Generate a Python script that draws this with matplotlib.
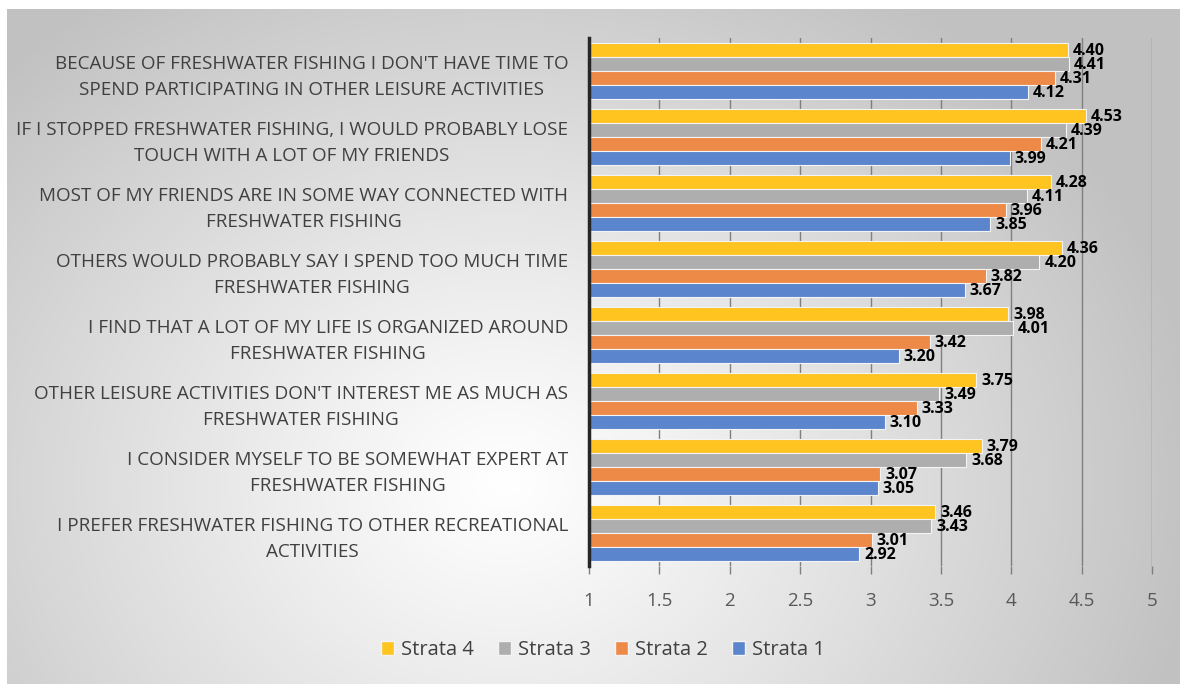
import numpy as np
import matplotlib
matplotlib.use("Agg")
import matplotlib.pyplot as plt
from matplotlib.patches import Patch

categories = [
    "BECAUSE OF FRESHWATER FISHING I DON'T HAVE TIME TO\nSPEND PARTICIPATING IN OTHER LEISURE ACTIVITIES",
    "IF I STOPPED FRESHWATER FISHING, I WOULD PROBABLY LOSE\nTOUCH WITH A LOT OF MY FRIENDS",
    "MOST OF MY FRIENDS ARE IN SOME WAY CONNECTED WITH\nFRESHWATER FISHING",
    "OTHERS WOULD PROBABLY SAY I SPEND TOO MUCH TIME\nFRESHWATER FISHING",
    "I FIND THAT A LOT OF MY LIFE IS ORGANIZED AROUND\nFRESHWATER FISHING",
    "OTHER LEISURE ACTIVITIES DON'T INTEREST ME AS MUCH AS\nFRESHWATER FISHING",
    "I CONSIDER MYSELF TO BE SOMEWHAT EXPERT AT\nFRESHWATER FISHING",
    "I PREFER FRESHWATER FISHING TO OTHER RECREATIONAL\nACTIVITIES",
]
strata4 = [4.40, 4.53, 4.28, 4.36, 3.98, 3.75, 3.79, 3.46]
strata3 = [4.41, 4.39, 4.11, 4.20, 4.01, 3.49, 3.68, 3.43]
strata2 = [4.31, 4.21, 3.96, 3.82, 3.42, 3.33, 3.07, 3.01]
strata1 = [4.12, 3.99, 3.85, 3.67, 3.20, 3.10, 3.05, 2.92]
series_names = ["Strata 4", "Strata 3", "Strata 2", "Strata 1"]
colors = ["#FFC41F", "#AEAEAE", "#EE8A48", "#5B85CC"]
xticks = [1, 1.5, 2, 2.5, 3, 3.5, 4, 4.5, 5]

W, H = 1180, 684
fig = plt.figure(figsize=(W / 100, H / 100), dpi=100)
fig.patch.set_facecolor("white")

# background radial gradient
bg = fig.add_axes([7 / W, 0, 1 - 7 / W, 1 - 9 / H], zorder=0)
yy, xx = np.mgrid[0:H, 0:W]
cx, cy = 500, 480
r = np.sqrt(((xx - cx) / 1.0) ** 2 + ((yy - cy) / 0.85) ** 2)
t = np.clip(r / 700, 0, 1) ** 1.1
c0 = np.array([1.0, 1.0, 1.0])
c1 = np.array([0.76, 0.76, 0.76])
img = c0[None, None, :] * (1 - t[..., None]) + c1[None, None, :] * t[..., None]
bg.imshow(img, aspect="auto", extent=[0, 1, 0, 1])
bg.axis("off")

ax = fig.add_axes([589 / W, 1 - 566 / H, (1152 - 589) / W, (566 - 38) / H], zorder=1)
ax.patch.set_alpha(0)

n = len(categories)
y = np.arange(n)
bh = 0.205
step = 0.212
offsets = [-1.5 * step, -0.5 * step, 0.5 * step, 1.5 * step]
series = [strata4, strata3, strata2, strata1]
for vals, name, col, off in zip(series, series_names, colors, offsets):
    left = 1
    ax.barh(y + off, np.array(vals) - left, left=left, height=bh, color=col,
            edgecolor="#f4f4f4", linewidth=0.8, label=name, zorder=3)
    for yi, v in zip(y, vals):
        ax.text(v + 0.035, yi + off + 0.02, f"{v:.2f}", va="center", ha="left",
                fontsize=11.5, fontweight="bold", color="black",
                family="Open Sans", zorder=4)

ax.set_ylim(n - 0.5, -0.5)
ax.set_xlim(1, 5)
ax.set_xticks(xticks)
ax.set_xticklabels([f"{v:g}" for v in xticks], fontsize=13.5, color="#595959",
                   family="Open Sans")
ax.tick_params(axis="x", length=6, color="#7f7f7f", width=1, pad=13)
ax.set_yticks(y)
ax.set_yticklabels(categories, fontsize=13.6, color="#404040", family="Open Sans",
                   linespacing=1.6)
ax.tick_params(axis="y", length=0, pad=15)
for lab in ax.get_yticklabels():
    lab.set_horizontalalignment("right")
    lab.set_multialignment("center")

ax.grid(axis="x", color="#7f7f7f", linewidth=1, zorder=1)
ax.set_axisbelow(True)
for s in ["top", "right", "bottom"]:
    ax.spines[s].set_visible(False)
ax.spines["left"].set_color("#262626")
ax.spines["left"].set_linewidth(2.5)
ax.spines["left"].set_zorder(5)

handles = [Patch(facecolor=c, edgecolor="#f4f4f4", label=nm) for c, nm in zip(colors, series_names)]
fig.legend(handles=handles, loc="center", bbox_to_anchor=(603 / W, 1 - 650 / H),
           ncol=4, frameon=False, prop={"family": "Open Sans", "size": 14.5},
           handlelength=0.65, handleheight=0.65, handletextpad=0.35, columnspacing=1.2,
           labelcolor="#404040")

fig.savefig("out.png", dpi=100)
